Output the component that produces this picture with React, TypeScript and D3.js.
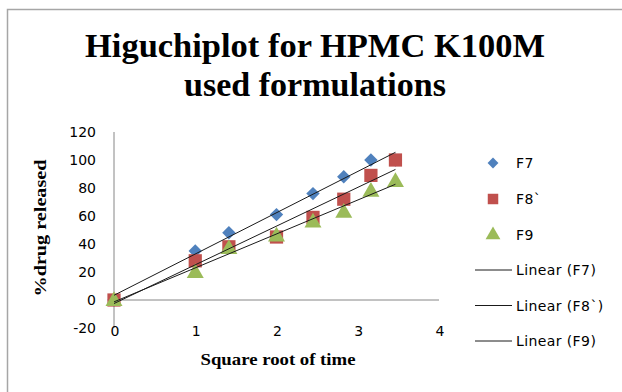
import React from "react";
import * as d3 from "d3";

// Square root of time (h^0.5) for sampling at 0,1,2,4,6,8,10,12 h
const sqrtTime = [0, 1, 1.414, 2, 2.449, 2.828, 3.162, 3.464];
const f7 = [0, 35, 48, 61, 76, 88, 100, 100];
const f8 = [0, 28, 38, 45, 59, 72, 89, 100];
const f9 = [0, 20, 37, 46, 56, 63, 78, 85];

const xTicks = [0, 1, 2, 3, 4];
const yTicks = [-20, 0, 20, 40, 60, 80, 100, 120];

const seriesNames = ["F7", "F8`", "F9"];
const trendNames = ["Linear (F7)", "Linear (F8`)", "Linear (F9)"];
const colors = ["#4F81BD", "#C0504D", "#9BBB59"];

const W = 622;
const H = 392;

const x = d3.scaleLinear().domain([0, 4]).range([114, 439]);
const y = d3.scaleLinear().domain([-20, 120]).range([328, 132]);

// ordinary least-squares fit for the linear trendlines
function fit(xs: number[], ys: number[]) {
  const mx = d3.mean(xs) as number;
  const my = d3.mean(ys) as number;
  let sxy = 0;
  let sxx = 0;
  xs.forEach((v, i) => {
    sxy += (v - mx) * (ys[i] - my);
    sxx += (v - mx) * (v - mx);
  });
  const slope = sxy / sxx;
  return { slope, intercept: my - slope * mx };
}

const shapes = [
  d3.symbol().type(d3.symbolDiamond2).size(115)() as string,
  d3.symbol().type(d3.symbolSquare).size(175)() as string,
  d3.symbol().type(d3.symbolTriangle).size(125)() as string,
];

const legendMarkerShapes = [
  d3.symbol().type(d3.symbolDiamond2).size(75)() as string,
  d3.symbol().type(d3.symbolSquare).size(110)() as string,
  d3.symbol().type(d3.symbolTriangle).size(95)() as string,
];

export default function App() {
  const all = [f7, f8, f9];

  const trends = all.map((ys) => {
    const { slope, intercept } = fit(sqrtTime, ys);
    const x0 = d3.min(sqrtTime) as number;
    const x1 = d3.max(sqrtTime) as number;
    return { x0, x1, y0: intercept + slope * x0, y1: intercept + slope * x1 };
  });

  const sans = "DejaVu Sans, sans-serif";
  const serif = "Liberation Serif, Times New Roman, serif";

  return (
    <svg
      width={W}
      height={H}
      style={{ position: "absolute", left: 0, top: 0, background: "#fff" }}
    >
      <rect x={0} y={0} width={W} height={H} fill="#fff" />
      {/* chart frame */}
      <rect x={7.5} y={9.5} width={W + 10} height={H + 10} fill="none" stroke="#a6a6a6" strokeWidth={1.5} />

      {/* title */}
      <text x={315} y={57} textAnchor="middle" fontFamily={serif} fontWeight="bold" fontSize={34} textLength={460} lengthAdjust="spacingAndGlyphs">
        Higuchiplot for HPMC K100M
      </text>
      <text x={315} y={96} textAnchor="middle" fontFamily={serif} fontWeight="bold" fontSize={34} textLength={262} lengthAdjust="spacingAndGlyphs">
        used formulations
      </text>

      {/* axes */}
      <line x1={x(0)} x2={x(0)} y1={y(120)} y2={y(-20)} stroke="#868686" strokeWidth={1} />
      <line x1={x(0)} x2={x(4)} y1={y(0)} y2={y(0)} stroke="#868686" strokeWidth={1} />

      {yTicks.map((t) => (
        <text key={t} x={96} y={y(t)} dy="0.36em" textAnchor="end" fontFamily={sans} fontSize={14} fill="#000">
          {t}
        </text>
      ))}
      {xTicks.map((t) => (
        <text key={t} x={x(t) + 1} y={336} textAnchor="middle" fontFamily={sans} fontSize={14} fill="#000">
          {t}
        </text>
      ))}

      <text x={278} y={365} textAnchor="middle" fontFamily={serif} fontWeight="bold" fontSize={16} textLength={155} lengthAdjust="spacingAndGlyphs">
        Square root of time
      </text>
      <text
        transform={`translate(46,228) rotate(-90)`}
        textAnchor="middle"
        fontFamily={serif}
        fontWeight="bold"
        fontSize={16}
        textLength={137}
        lengthAdjust="spacingAndGlyphs"
      >
        %drug released
      </text>

      {/* markers */}
      {all.map((ys, si) => (
        <g key={si} fill={colors[si]}>
          {ys.map((v, i) => (
            <path key={i} d={shapes[si]} transform={`translate(${x(sqrtTime[i])},${y(v) + (si === 2 ? 1 : 0)})`} />
          ))}
        </g>
      ))}

      {/* trend lines */}
      {trends.map((t, i) => (
        <line key={i} x1={x(t.x0)} x2={x(t.x1)} y1={y(t.y0)} y2={y(t.y1)} stroke="#1a1a1a" strokeWidth={1} />
      ))}

      {/* legend */}
      {seriesNames.map((n, i) => {
        const ly = 163 + i * 36;
        return (
          <g key={n}>
            <path d={legendMarkerShapes[i]} fill={colors[i]} transform={`translate(493,${ly})`} />
            <text x={516} y={ly} dy="0.36em" fontFamily={sans} fontSize={14} letterSpacing={0.4}>
              {n}
            </text>
          </g>
        );
      })}
      {trendNames.map((n, i) => {
        const ly = 270 + i * 35.5;
        return (
          <g key={n}>
            <line x1={475} x2={512} y1={ly} y2={ly} stroke="#1a1a1a" strokeWidth={1} />
            <text x={516} y={ly} dy="0.36em" fontFamily={sans} fontSize={14} letterSpacing={0.4}>
              {n}
            </text>
          </g>
        );
      })}
    </svg>
  );
}
